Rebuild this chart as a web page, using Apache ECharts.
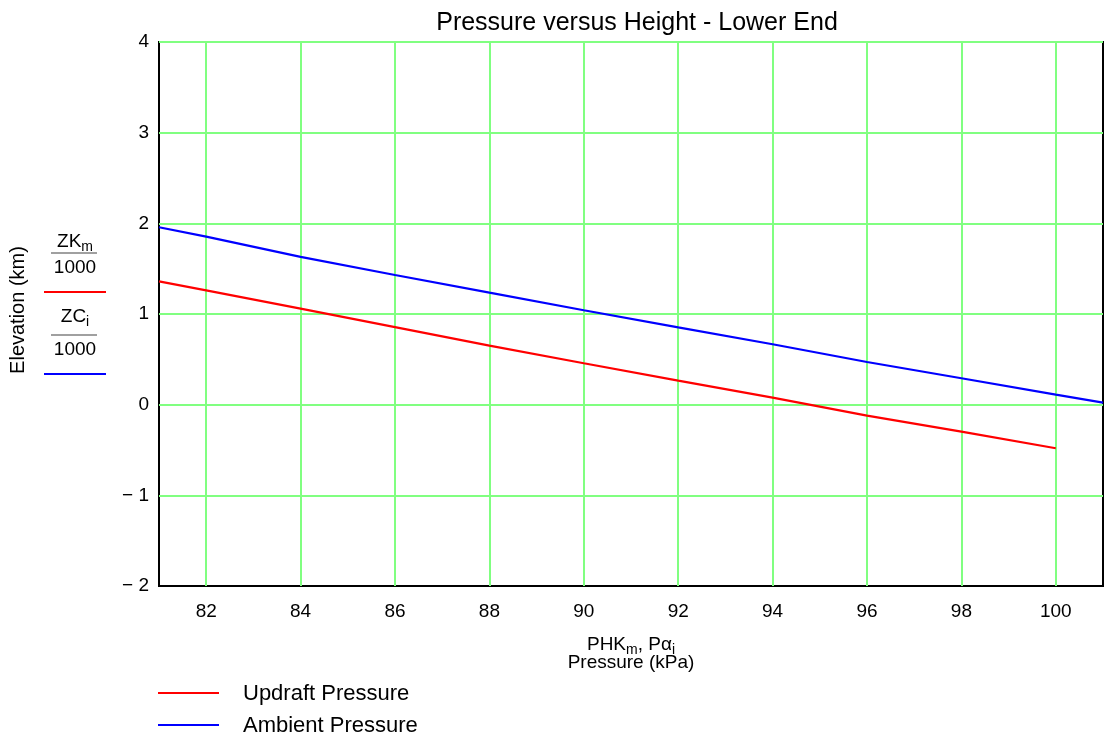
<!DOCTYPE html>
<html><head><meta charset="utf-8">
<script src="https://cdn.jsdelivr.net/npm/echarts@6/dist/echarts.min.js"></script>
<style>html,body{margin:0;padding:0;background:#fff}#c{width:1108px;height:744px}</style>
</head><body><div id="c"></div>
<script>
const titleText = 'Pressure versus Height - Lower End';
const pressureUpdraft = [81, 82, 84, 86, 88, 90, 92, 94, 96, 98, 100];
const elevUpdraft = [1.36, 1.26, 1.06, 0.855, 0.651, 0.457, 0.265, 0.077, -0.121, -0.298, -0.481];
const pressureAmbient = [81, 82, 84, 86, 88, 90, 92, 94, 96, 98, 100, 101];
const elevAmbient = [1.957, 1.853, 1.63, 1.43, 1.235, 1.041, 0.853, 0.666, 0.471, 0.291, 0.11, 0.022];
const xTicks = [82, 84, 86, 88, 90, 92, 94, 96, 98, 100];
const yTicks = [-2, -1, 0, 1, 2, 3, 4];
const seriesNames = ['Updraft Pressure', 'Ambient Pressure'];

const FONT = 'Liberation Sans, Arial, sans-serif';
const FS = 19, SUB = 14;
const GREEN = '#80ff80';
const chart = echarts.init(document.getElementById('c'));
const zip = (a, b) => a.map((v, i) => [v, b[i]]);
const rich = { a: { fontFamily: FONT, fontSize: FS, fill: '#000', color: '#000' },
               s: { fontFamily: FONT, fontSize: SUB, fill: '#000', color: '#000', padding: [10, 0, 0, 0] } };
chart.setOption({
  animation: false,
  backgroundColor: '#fff',
  title: { text: titleText, left: 632, textAlign: 'center', top: 6,
    textStyle: { fontFamily: FONT, fontSize: 25, fontWeight: 'normal', color: '#000' } },
  grid: { left: 159, right: 5, top: 42, bottom: 158, show: true, borderColor: '#000', borderWidth: 2, backgroundColor: 'transparent' },
  xAxis: {
    type: 'value', min: 81, max: 101, interval: 1,
    axisLine: { show: true, onZero: false, lineStyle: { color: '#000', width: 2 } },
    axisTick: { show: false },
    axisLabel: { fontFamily: FONT, fontSize: FS, color: '#000', margin: 16,
      formatter: v => xTicks.includes(v) ? String(v) : '' },
    splitLine: { show: false }
  },
  yAxis: {
    type: 'value', min: -2, max: 4, interval: 1,
    axisLine: { show: true, lineStyle: { color: '#000', width: 2 } },
    axisTick: { show: false },
    axisLabel: { fontFamily: FONT, fontSize: FS, color: '#000', margin: 10,
      formatter: v => yTicks.includes(v) ? String(v).replace('-', '\u2212 ') : '' },
    splitLine: { show: false }
  },
  series: [
    { type: 'line', name: 'grid', data: [], z: 1, markLine: { silent: true, symbol: 'none', label: { show: false },
        lineStyle: { color: GREEN, width: 2, type: 'solid' },
        data: xTicks.map(v => ({ xAxis: v })).concat(yTicks.filter(v => v > -2).map(v => ({ yAxis: v }))) } },
    { type: 'line', name: seriesNames[0], data: zip(pressureUpdraft, elevUpdraft), showSymbol: false,
      lineStyle: { color: '#ff0000', width: 2.2 }, itemStyle: { color: '#ff0000' }, z: 5 },
    { type: 'line', name: seriesNames[1], data: zip(pressureAmbient, elevAmbient), showSymbol: false,
      lineStyle: { color: '#0000ff', width: 2.2 }, itemStyle: { color: '#0000ff' }, z: 5 }
  ],
  graphic: [
    { type: 'text', x: 18, y: 310, rotation: Math.PI / 2, style: { text: 'Elevation (km)', fontFamily: FONT, fontSize: 20, fill: '#000', align: 'center', verticalAlign: 'middle' } },
    { type: 'text', x: 75, y: 230, style: { text: '{a|ZK}{s|m}', align: 'center', verticalAlign: 'top', fill: '#000', rich } },
    { type: 'line', shape: { x1: 51, y1: 253, x2: 97, y2: 253 }, style: { stroke: '#808080', lineWidth: 1.5 } },
    { type: 'text', x: 75, y: 268, style: { text: '1000', fontFamily: FONT, fontSize: FS, fill: '#000', align: 'center', verticalAlign: 'middle' } },
    { type: 'line', shape: { x1: 44, y1: 292, x2: 106, y2: 292 }, style: { stroke: '#ff0000', lineWidth: 2 } },
    { type: 'text', x: 75, y: 305, style: { text: '{a|ZC}{s|i}', align: 'center', verticalAlign: 'top', fill: '#000', rich } },
    { type: 'line', shape: { x1: 51, y1: 335, x2: 97, y2: 335 }, style: { stroke: '#808080', lineWidth: 1.5 } },
    { type: 'text', x: 75, y: 350, style: { text: '1000', fontFamily: FONT, fontSize: FS, fill: '#000', align: 'center', verticalAlign: 'middle' } },
    { type: 'line', shape: { x1: 44, y1: 374, x2: 106, y2: 374 }, style: { stroke: '#0000ff', lineWidth: 2 } },
    { type: 'text', x: 631, y: 633, style: { text: '{a|PHK}{s|m}{a|, P\u03b1}{s|i}', align: 'center', verticalAlign: 'top', fill: '#000', rich } },
    { type: 'text', x: 631, y: 663, style: { text: 'Pressure (kPa)', fontFamily: FONT, fontSize: FS, fill: '#000', align: 'center', verticalAlign: 'middle' } },
    { type: 'line', shape: { x1: 158, y1: 693, x2: 219, y2: 693 }, style: { stroke: '#ff0000', lineWidth: 2 } },
    { type: 'text', x: 243, y: 694, style: { text: seriesNames[0], fontFamily: FONT, fontSize: 22, fill: '#000', verticalAlign: 'middle' } },
    { type: 'line', shape: { x1: 158, y1: 725, x2: 219, y2: 725 }, style: { stroke: '#0000ff', lineWidth: 2 } },
    { type: 'text', x: 243, y: 726, style: { text: seriesNames[1], fontFamily: FONT, fontSize: 22, fill: '#000', verticalAlign: 'middle' } }
  ]
});
</script></body></html>
